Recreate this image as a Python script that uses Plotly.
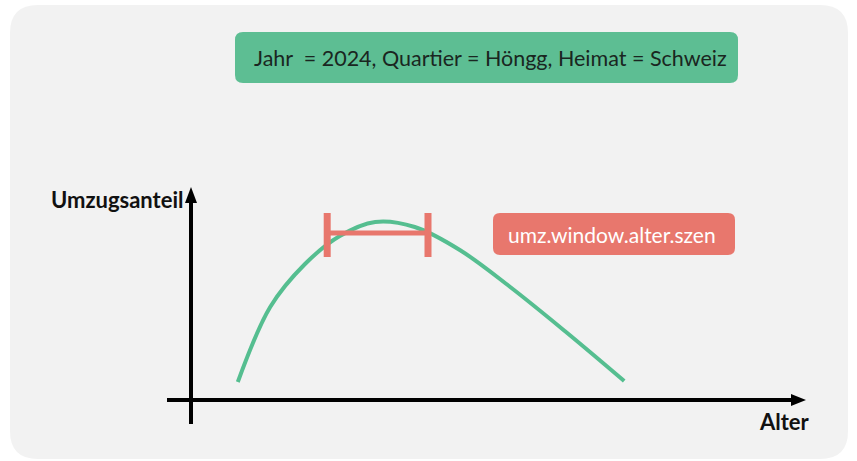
import plotly.graph_objects as go

# ---- data (schematic) ----
alter = [7.8, 13.2, 19.0, 24.8, 30.7, 37.3, 44.8, 53.2, 62.3, 72.2]
umzugsanteil = [9, 46.5, 68, 82, 89, 86.5, 75, 56.5, 34.5, 9.5]
window_alter = [22.7, 39.5]
window_anteil = 83.5
window_cap = [71.5, 93.5]
title_text = "Jahr  = 2024, Quartier = Höngg, Heimat = Schweiz"
window_label = "umz.window.alter.szen"
y_label = "Umzugsanteil"
x_label = "Alter"

GREEN_LINE = "#55BE90"
GREEN_BOX = "#5DBE93"
RED = "#E8776D"
W, H = 857, 461

# pixel -> data helpers for decorations
X0PX, Y0PX, SX, SY = 191, 400, 6.0, 2.0
def X(px): return (px - X0PX) / SX
def Y(py): return (Y0PX - py) / SY

def rrect(x0, y0, x1, y1, r):
    p = [
        f"M {X(x0+r)} {Y(y0)}", f"L {X(x1-r)} {Y(y0)}", f"Q {X(x1)} {Y(y0)} {X(x1)} {Y(y0+r)}",
        f"L {X(x1)} {Y(y1-r)}", f"Q {X(x1)} {Y(y1)} {X(x1-r)} {Y(y1)}",
        f"L {X(x0+r)} {Y(y1)}", f"Q {X(x0)} {Y(y1)} {X(x0)} {Y(y1-r)}",
        f"L {X(x0)} {Y(y0+r)}", f"Q {X(x0)} {Y(y0)} {X(x0+r)} {Y(y0)}", "Z"]
    return " ".join(p)

fig = go.Figure()
fig.add_trace(go.Scatter(x=alter, y=umzugsanteil, mode="lines",
                         line=dict(color=GREEN_LINE, width=4, shape="spline", smoothing=1.0),
                         hoverinfo="skip"))
# window bar
fig.add_trace(go.Scatter(x=window_alter, y=[window_anteil, window_anteil], mode="lines",
                         line=dict(color=RED, width=5), hoverinfo="skip"))
for xa in window_alter:
    fig.add_trace(go.Scatter(x=[xa, xa], y=window_cap, mode="lines",
                             line=dict(color=RED, width=7), hoverinfo="skip"))

shapes = [
    dict(type="path", path=rrect(10, 5, 848, 459, 28), fillcolor="#F2F2F2",
         line=dict(width=0), layer="below"),
    # axes
    dict(type="line", x0=X(191), y0=Y(424), x1=X(191), y1=Y(200), line=dict(color="black", width=4)),
    dict(type="line", x0=X(167), y0=Y(400), x1=X(795), y1=Y(400), line=dict(color="black", width=4)),
    dict(type="path", path=f"M {X(191)} {Y(187)} L {X(197)} {Y(203)} L {X(185)} {Y(203)} Z",
         fillcolor="black", line=dict(width=0)),
    dict(type="path", path=f"M {X(806)} {Y(400)} L {X(791)} {Y(406)} L {X(791)} {Y(394)} Z",
         fillcolor="black", line=dict(width=0)),
    # boxes
    dict(type="path", path=rrect(235, 32, 738, 83, 8), fillcolor=GREEN_BOX, line=dict(width=0)),
    dict(type="path", path=rrect(493, 213, 735, 255, 7), fillcolor=RED, line=dict(width=0)),
]

font = "Lato"
annotations = [
    dict(x=X(490), y=Y(58), text=title_text, showarrow=False,
         font=dict(family=font, size=21.5, color="#1A2621")),
    dict(x=X(612), y=Y(234), text=window_label, showarrow=False,
         font=dict(family=font, size=21, color="white")),
    dict(x=X(117), y=Y(199), text=f"<b>{y_label}</b>", showarrow=False,
         font=dict(family=font, size=22, color="#111111")),
    dict(x=X(784), y=Y(421), text=f"<b>{x_label}</b>", showarrow=False,
         font=dict(family=font, size=22, color="#111111")),
]

fig.update_layout(
    width=W, height=H, margin=dict(l=0, r=0, t=0, b=0),
    paper_bgcolor="white", plot_bgcolor="white", showlegend=False,
    shapes=shapes, annotations=annotations,
    xaxis=dict(range=[X(0), X(W)], visible=False, fixedrange=True),
    yaxis=dict(range=[Y(H), Y(0)], visible=False, fixedrange=True),
)
fig.write_html("out.html", config={"displayModeBar": False},
               post_script="document.body.style.margin='0px';document.body.style.overflow='hidden';")
